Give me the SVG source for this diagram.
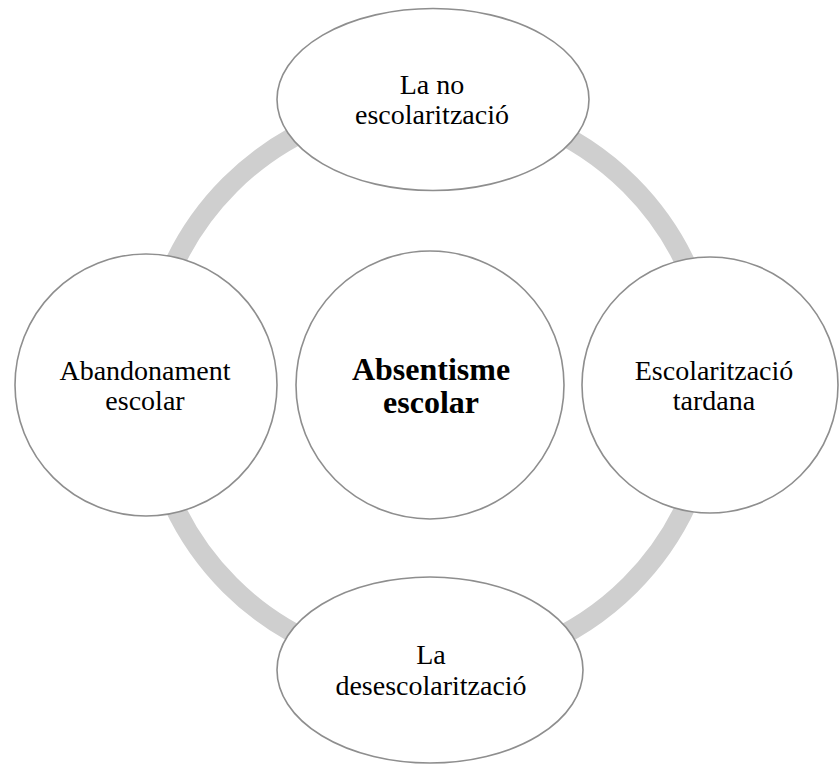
<svg xmlns="http://www.w3.org/2000/svg" width="840" height="764" viewBox="0 0 840 764">
<style>
.node{fill:#ffffff;stroke:#8e8e8e;stroke-width:1.6}
.lbl{font-family:"Liberation Serif","Times New Roman",serif;font-size:28px;fill:#000000;text-anchor:middle}
.bold{font-weight:bold;font-size:32px}
.ring{fill:none;stroke:#cfcfcf;stroke-width:20}
</style>
<rect width="840" height="764" fill="#ffffff"/>
<g id="connectors">
<circle class="ring" cx="430" cy="385" r="283"/>
</g>
<g id="node-center">
<circle class="node" cx="430" cy="385" r="134"/>
<text class="lbl bold" x="431" y="380">Absentisme</text>
<text class="lbl bold" x="431" y="413">escolar</text>
</g>
<g id="node-top">
<ellipse class="node" cx="433" cy="99.5" rx="156" ry="91"/>
<text class="lbl" x="432" y="94">La no</text>
<text class="lbl" x="432" y="124">escolarització</text>
</g>
<g id="node-right">
<circle class="node" cx="710" cy="385" r="128"/>
<text class="lbl" x="714" y="380">Escolarització</text>
<text class="lbl" x="714" y="410">tardana</text>
</g>
<g id="node-bottom">
<ellipse class="node" cx="430" cy="670" rx="153" ry="93"/>
<text class="lbl" x="431" y="664">La</text>
<text class="lbl" x="431" y="695">desescolarització</text>
</g>
<g id="node-left">
<circle class="node" cx="146" cy="385" r="131"/>
<text class="lbl" x="145" y="380">Abandonament</text>
<text class="lbl" x="145" y="410">escolar</text>
</g>
</svg>
